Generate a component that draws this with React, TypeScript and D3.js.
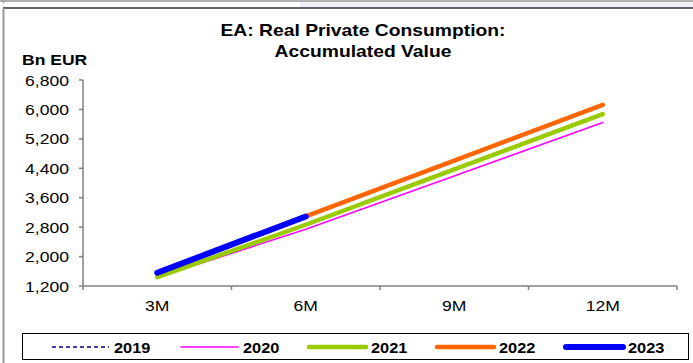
import React from "react";
import * as d3 from "d3";

const categories = ["3M", "6M", "9M", "12M"];
const yTicks = [1200, 2000, 2800, 3600, 4400, 5200, 6000, 6800];
const seriesNames = ["2019", "2020", "2021", "2022", "2023"];
const values2019 = [1440, 2870, 4370, 5880];
const values2020 = [1430, 2745, 4190, 5645];
const values2021 = [1440, 2865, 4370, 5875];
const values2022 = [1545, 3090, 4610, 6125];
const values2023 = [1560, 3090];

const W = 693;
const H = 363;
const SX = 1.17;

type S = { name: string; values: number[]; color: string; width: number; dash?: string };

const series: S[] = [
  { name: seriesNames[0], values: values2019, color: "#000080", width: 1.5, dash: "4,3" },
  { name: seriesNames[1], values: values2020, color: "#FF00FF", width: 1.5 },
  { name: seriesNames[2], values: values2021, color: "#99CC00", width: 4.5 },
  { name: seriesNames[3], values: values2022, color: "#FF6600", width: 4.5 },
  { name: seriesNames[4], values: values2023, color: "#0000FF", width: 6 },
];

function T(props: {
  x: number;
  y: number;
  size: number;
  bold?: boolean;
  anchor?: "start" | "middle" | "end";
  children: React.ReactNode;
}) {
  return (
    <text
      transform={`translate(${props.x},${props.y}) scale(${SX},1)`}
      fontSize={props.size}
      fontWeight={props.bold ? "bold" : "normal"}
      textAnchor={props.anchor || "start"}
      fill="#000"
    >
      {props.children}
    </text>
  );
}

export default function App() {
  const x = d3.scaleBand<string>().domain(categories).range([83, 677]);
  const y = d3.scaleLinear().domain([1200, 6800]).range([286, 80]);
  const line = d3
    .line<number>()
    .x((_, i) => (x(categories[i]) as number) + x.bandwidth() / 2)
    .y((d) => y(d));
  const font = "Arial, 'Liberation Sans', sans-serif";
  const legendX = [52, 181, 309, 437, 566];
  const legendLen = 57;

  return (
    <svg
      width={W}
      height={H}
      style={{ position: "absolute", left: 0, top: 0, fontFamily: font }}
    >
      <rect x={0} y={0} width={W} height={H} fill="#fff" />
      <rect x={300} y={2} width={393} height={6} fill="#EEEEF8" />
      <line x1={0} x2={W} y1={1} y2={1} stroke="#999" strokeWidth={1.5} />
      <line x1={3.5} x2={3.5} y1={0} y2={3} stroke="#999" strokeWidth={1.5} />
      <line x1={3} x2={W} y1={8} y2={8} stroke="#333" strokeWidth={1.5} />
      <line x1={3.5} x2={3.5} y1={8} y2={H} stroke="#999" strokeWidth={2} />

      <T x={363} y={36} size={16.5} bold anchor="middle">
        EA: Real Private Consumption:
      </T>
      <T x={363} y={57} size={16.5} bold anchor="middle">
        Accumulated Value
      </T>
      <T x={22} y={65} size={15} bold>
        Bn EUR
      </T>

      {/* y axis */}
      <line x1={83} x2={83} y1={y(6800)} y2={y(1200)} stroke="#808080" strokeWidth={1.5} />
      {yTicks.map((t) => (
        <g key={t}>
          <line x1={79} x2={83} y1={y(t)} y2={y(t)} stroke="#808080" strokeWidth={1.5} />
          <T x={69} y={y(t) + 5.5} size={15} anchor="end">
            {d3.format(",")(t)}
          </T>
        </g>
      ))}

      {/* x axis */}
      <line x1={83} x2={677} y1={286} y2={286} stroke="#808080" strokeWidth={1.5} />
      {[...categories.map((c) => x(c) as number), 677].map((p, i) => (
        <line key={i} x1={p} x2={p} y1={286} y2={290} stroke="#808080" strokeWidth={1.5} />
      ))}
      {categories.map((c) => (
        <T key={c} x={(x(c) as number) + x.bandwidth() / 2} y={311} size={15} anchor="middle">
          {c}
        </T>
      ))}

      {series.map((s) => (
        <path
          key={s.name}
          d={line(s.values) || ""}
          fill="none"
          stroke={s.color}
          strokeWidth={s.width}
          strokeDasharray={s.dash}
          strokeLinecap={s.dash ? "butt" : "round"}
        />
      ))}

      {/* legend */}
      <rect x={22.5} y={333.5} width={666} height={26} fill="none" stroke="#000" strokeWidth={1} />
      {series.map((s, i) => (
        <g key={s.name}>
          <line
            x1={legendX[i]}
            x2={legendX[i] + legendLen}
            y1={347}
            y2={347}
            stroke={s.color}
            strokeWidth={s.width}
            strokeDasharray={s.dash}
            strokeLinecap={s.dash ? "butt" : "round"}
          />
          <T x={legendX[i] + legendLen + 5} y={353} size={14} bold>
            {s.name}
          </T>
        </g>
      ))}
    </svg>
  );
}
